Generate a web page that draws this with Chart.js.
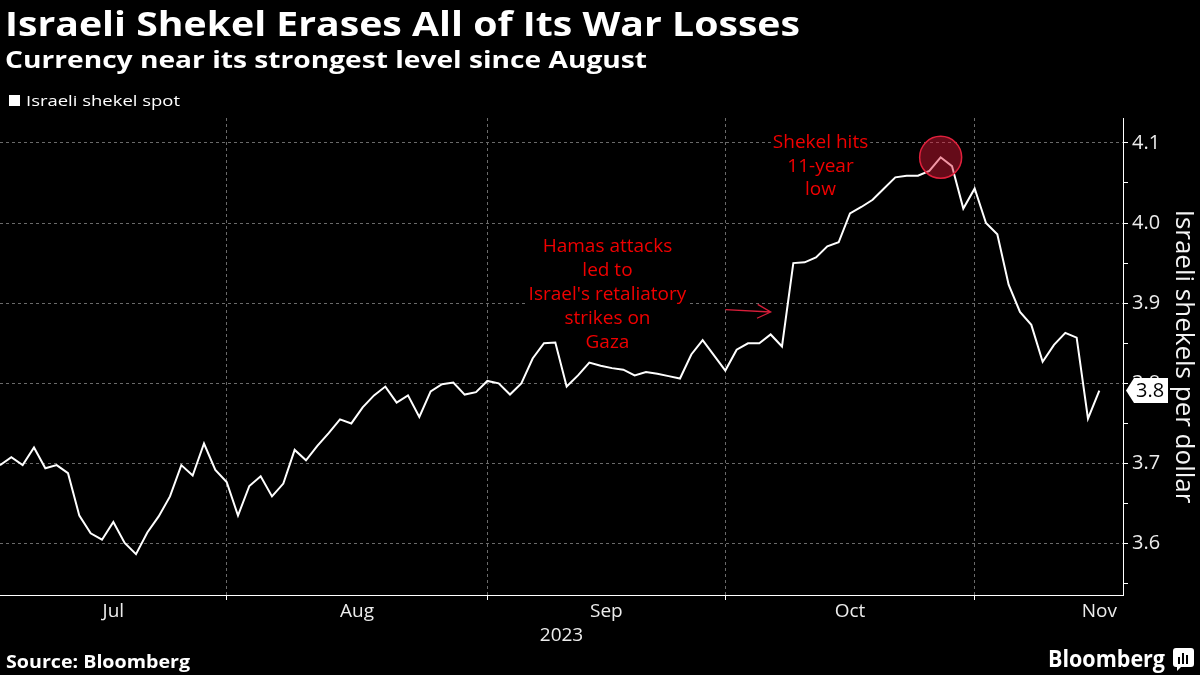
<!DOCTYPE html>
<html><head><meta charset="utf-8">
<script src="https://cdn.jsdelivr.net/npm/chart.js@4.4.1/dist/chart.umd.min.js"></script>
<style>html,body{margin:0;padding:0;background:#000;}canvas{display:block;}</style>
</head><body>
<canvas id="c" width="1200" height="675"></canvas>
<script>
// ---- text ----
const titleText = 'Israeli Shekel Erases All of Its War Losses';
const subtitleText = 'Currency near its strongest level since August';
const seriesName = 'Israeli shekel spot';
const yAxisTitle = 'Israeli shekels per dollar';
const yearLabel = '2023';
const sourceText = 'Source: Bloomberg';
const brandText = 'Bloomberg';

// ---- data: USD/ILS daily spot (trading days, 3 Jul – 15 Nov 2023) ----
const shekelSpot = [
  3.698, 3.708, 3.698, 3.720, 3.694, 3.698, 3.688, 3.635, 3.613, 3.605,
  3.627, 3.601, 3.587, 3.614, 3.634, 3.659, 3.698, 3.685, 3.725, 3.692,
  3.677, 3.635, 3.672, 3.684, 3.659, 3.675, 3.717, 3.704, 3.722, 3.738,
  3.755, 3.750, 3.770, 3.785, 3.796, 3.776, 3.785, 3.758, 3.790, 3.799,
  3.801, 3.786, 3.789, 3.803, 3.800, 3.786, 3.800, 3.831, 3.850, 3.851,
  3.796, 3.810, 3.826, 3.822, 3.819, 3.817, 3.810, 3.814, 3.812, 3.809,
  3.806, 3.836, 3.854, 3.835, 3.816, 3.842, 3.850, 3.850, 3.861, 3.846,
  3.950, 3.951, 3.957, 3.971, 3.976, 4.012, 4.020, 4.029, 4.043, 4.057,
  4.059, 4.059, 4.065, 4.082, 4.071, 4.018, 4.043, 4.000, 3.986, 3.923,
  3.889, 3.873, 3.827, 3.848, 3.863, 3.857, 3.756, 3.791
];

// ---- axis ticks ----
const monthLabels   = ['Jul', 'Aug', 'Sep', 'Oct', 'Nov'];
const monthLabelIdx = [10, 31.5, 53.5, 75, 97];   // mid-month trading-day index
const monthEndIdx   = [20, 43, 64, 86];           // last trading day of month
const yMajorTicks   = [3.6, 3.7, 3.8, 3.9, 4.0, 4.1];
const yMinorTicks   = [3.55, 3.65, 3.75, 3.85, 3.95, 4.05];

// ---- annotations (anchored in data units) ----
const hamasNote  = ['Hamas attacks', 'led to', "Israel's retaliatory", 'strikes on', 'Gaza'];
const hamasAt    = {x: 53.6, y: 3.970};
const lowNote    = ['Shekel hits', '11-year', 'low'];
const lowAt      = {x: 72.4, y: 4.100};
const arrowFrom  = {x: 64.0, y: 3.892};
const arrowTo    = {x: 68.0, y: 3.889};

const FONT = "'Open Sans', 'Noto Sans', sans-serif";
const GRID = '#6a6a6a';
const TXT = '#ececec';
const RED = '#f00000';

function isMajor(v) { return v != null && Math.abs(v * 10 - Math.round(v * 10)) < 1e-6; }

function fitText(ctx, text, x, y, font, width, align) {
  ctx.save();
  ctx.font = font;
  ctx.textBaseline = 'alphabetic';
  const w = ctx.measureText(text).width;
  const sx = width ? width / w : 1;
  ctx.translate(x, y);
  ctx.scale(sx, 1);
  ctx.textAlign = align || 'left';
  ctx.fillText(text, 0, 0);
  ctx.restore();
}

const decor = {
  id: 'decor',
  beforeDraw(chart) {
    const ctx = chart.ctx;
    ctx.save();
    ctx.fillStyle = '#000';
    ctx.fillRect(0, 0, chart.width, chart.height);
    ctx.restore();
  },
  beforeDatasetsDraw(chart) {
    const {ctx, scales: {x, y}} = chart;
    const drawNote = (lines, at, lh) => {
      const cx = x.getPixelForValue(at.x);
      const cy0 = y.getPixelForValue(at.y);
      ctx.save();
      ctx.font = '19px ' + FONT;
      ctx.textAlign = 'center';
      ctx.textBaseline = 'middle';
      lines.forEach((t, i) => {
        const w = ctx.measureText(t).width;
        const cy = cy0 + i * lh;
        ctx.fillStyle = '#000';
        ctx.fillRect(cx - w / 2 - 2, cy - 10, w + 4, 20);
        ctx.fillStyle = RED;
        ctx.fillText(t, cx, cy);
      });
      ctx.restore();
    };
    drawNote(hamasNote, hamasAt, 23.8);
    drawNote(lowNote, lowAt, 23.5);
  },
  afterDatasetsDraw(chart) {
    const {ctx, scales: {x, y}} = chart;
    // highlight circle at the peak
    const peak = Math.max(...shekelSpot);
    const pi = shekelSpot.indexOf(peak);
    ctx.save();
    ctx.beginPath();
    ctx.arc(x.getPixelForValue(pi), y.getPixelForValue(peak), 21, 0, Math.PI * 2);
    ctx.fillStyle = 'rgba(225,25,55,0.45)';
    ctx.fill();
    ctx.lineWidth = 1.5;
    ctx.strokeStyle = '#e0203c';
    ctx.stroke();
    // arrow
    const x1 = x.getPixelForValue(arrowFrom.x), y1 = y.getPixelForValue(arrowFrom.y);
    const x2 = x.getPixelForValue(arrowTo.x), y2 = y.getPixelForValue(arrowTo.y);
    const ang = Math.atan2(y2 - y1, x2 - x1);
    ctx.strokeStyle = '#d81e3a';
    ctx.lineWidth = 1.3;
    ctx.beginPath();
    ctx.moveTo(x1, y1); ctx.lineTo(x2, y2);
    ctx.moveTo(x2 - 15 * Math.cos(ang - 0.48), y2 - 15 * Math.sin(ang - 0.48));
    ctx.lineTo(x2, y2);
    ctx.lineTo(x2 - 15 * Math.cos(ang + 0.48), y2 - 15 * Math.sin(ang + 0.48));
    ctx.stroke();
    ctx.restore();
  },
  afterDraw(chart) {
    const {ctx, scales: {y}} = chart;
    ctx.save();
    ctx.fillStyle = '#ffffff';
    fitText(ctx, titleText, 5, 36, 'bold 34px ' + FONT, 795);
    fitText(ctx, subtitleText, 5, 68, 'bold 24px ' + FONT, 642);
    // legend
    ctx.fillRect(9, 95, 11, 11);
    fitText(ctx, seriesName, 26, 106, '15px ' + FONT, 154);
    // footer
    fitText(ctx, sourceText, 6, 668, 'bold 17px ' + FONT, 184);
    fitText(ctx, brandText, 1048, 667, 'bold 23px ' + FONT, 117);
    // brand icon
    ctx.beginPath();
    const bx = 1173, by = 648, bw = 21, bh = 19, r = 3;
    ctx.moveTo(bx + r, by); ctx.lineTo(bx + bw - r, by); ctx.quadraticCurveTo(bx + bw, by, bx + bw, by + r);
    ctx.lineTo(bx + bw, by + bh - r); ctx.quadraticCurveTo(bx + bw, by + bh, bx + bw - r, by + bh);
    ctx.lineTo(bx + 8, by + bh); ctx.lineTo(bx + 4, by + bh + 4); ctx.lineTo(bx + 4, by + bh);
    ctx.lineTo(bx + r, by + bh); ctx.quadraticCurveTo(bx, by + bh, bx, by + bh - r);
    ctx.lineTo(bx, by + r); ctx.quadraticCurveTo(bx, by, bx + r, by);
    ctx.fill();
    ctx.fillStyle = '#000';
    ctx.fillRect(bx + 5, by + 9, 2, 7);
    ctx.fillRect(bx + 9, by + 5, 2, 11);
    ctx.fillRect(bx + 13, by + 7, 2, 9);
    // last-value badge
    const last = shekelSpot[shekelSpot.length - 1];
    const cy = y.getPixelForValue(last);
    const lx = y.left + 3;
    ctx.fillStyle = '#ffffff';
    ctx.beginPath();
    ctx.moveTo(lx, cy);
    ctx.lineTo(lx + 8, cy - 12.5);
    ctx.lineTo(1168, cy - 12.5);
    ctx.lineTo(1168, cy + 12.5);
    ctx.lineTo(lx + 8, cy + 12.5);
    ctx.closePath();
    ctx.fill();
    ctx.fillStyle = '#000';
    ctx.font = '20px ' + FONT;
    ctx.textBaseline = 'middle';
    ctx.textAlign = 'left';
    ctx.fillText(last.toFixed(1), lx + 10, cy + 1);
    ctx.restore();
  }
};

new Chart(document.getElementById('c'), {
  type: 'line',
  data: {
    datasets: [{
      label: seriesName,
      data: shekelSpot.map((v, i) => ({x: i, y: v})),
      borderColor: '#ffffff',
      borderWidth: 2,
      pointRadius: 0,
      tension: 0,
      fill: false
    }]
  },
  options: {
    responsive: false,
    animation: false,
    devicePixelRatio: 1,
    layout: {padding: {top: 118, right: 0, bottom: 0, left: 0}},
    plugins: {legend: {display: false}, title: {display: false}, tooltip: {enabled: false}},
    scales: {
      x: {
        type: 'linear', min: 0, max: 99.09, bounds: 'data',
        afterBuildTicks: s => { s.ticks = [...monthEndIdx, ...monthLabelIdx].sort((a, b) => a - b).map(v => ({value: v})); },
        afterFit: s => { s.height = 80; },
        ticks: {
          autoSkip: false, maxRotation: 0, minRotation: 0, padding: 0,
          color: TXT, font: {family: FONT, size: 19},
          callback: v => { const k = monthLabelIdx.indexOf(v); return k >= 0 ? monthLabels[k] : ''; }
        },
        grid: {
          color: c => (c.tick && monthEndIdx.includes(c.tick.value)) ? GRID : 'rgba(0,0,0,0)',
          tickColor: c => (c.tick && monthEndIdx.includes(c.tick.value)) ? '#ffffff' : 'rgba(0,0,0,0)',
          tickLength: 5, lineWidth: 1
        },
        border: {display: true, color: '#ffffff', width: 1, dash: [3, 3]},
        title: {display: true, text: yearLabel, color: TXT, font: {family: FONT, size: 19}, padding: {top: 0, bottom: 28}}
      },
      y: {
        type: 'linear', position: 'right', min: 3.536, max: 4.131, bounds: 'data',
        afterBuildTicks: s => { s.ticks = [...yMinorTicks, ...yMajorTicks].sort((a, b) => a - b).map(v => ({value: v})); },
        afterFit: s => { s.width = 77; },
        ticks: {
          color: TXT, font: {family: FONT, size: 20}, padding: 4,
          callback: v => isMajor(v) ? v.toFixed(1) : ''
        },
        grid: {
          color: c => (c.tick && isMajor(c.tick.value)) ? GRID : 'rgba(0,0,0,0)',
          tickColor: '#ffffff', tickLength: 5, lineWidth: 1
        },
        border: {display: true, color: '#ffffff', width: 1, dash: [3, 3]},
        title: {display: true, text: yAxisTitle, color: '#f4f4f4', font: {family: FONT, size: 26, lineHeight: 1.2}, padding: {top: 1, bottom: 0}}
      }
    }
  },
  plugins: [decor]
});
</script>
</body></html>
